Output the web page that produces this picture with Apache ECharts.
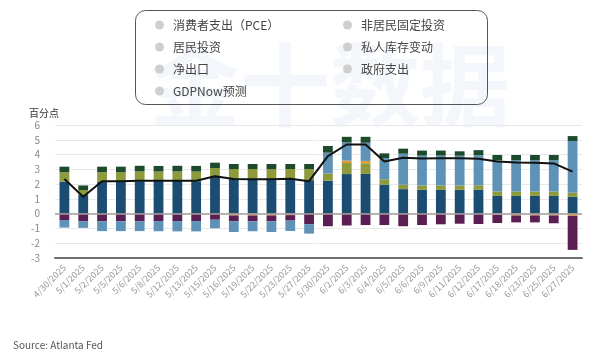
<!DOCTYPE html>
<html>
<head>
<meta charset="utf-8">
<script src="https://cdn.jsdelivr.net/npm/echarts@6/dist/echarts.min.js"></script>
<style>
html,body{margin:0;padding:0;background:#fff;}
#chart{width:600px;height:360px;}
</style>
</head>
<body>
<div id="chart"></div>
<script>
const categories = ['4/30/2025','5/1/2025','5/2/2025','5/5/2025','5/6/2025','5/8/2025','5/12/2025','5/13/2025','5/15/2025','5/16/2025','5/19/2025','5/22/2025','5/23/2025','5/27/2025','5/30/2025','6/2/2025','6/3/2025','6/4/2025','6/5/2025','6/6/2025','6/9/2025','6/11/2025','6/12/2025','6/17/2025','6/18/2025','6/23/2025','6/25/2025','6/27/2025'];
const pce         = [2.17,1.26,2.14,2.15,2.19,2.22,2.21,2.20,2.53,2.39,2.39,2.39,2.39,2.27,2.23,2.68,2.69,1.97,1.66,1.61,1.61,1.61,1.63,1.20,1.20,1.20,1.20,1.14];
const nonres      = [0.63,0.34,0.66,0.65,0.67,0.63,0.65,0.65,0.56,0.63,0.63,0.63,0.63,0.75,0.48,0.75,0.72,0.36,0.30,0.30,0.30,0.30,0.29,0.30,0.30,0.30,0.30,0.28];
const resid       = [0,0,0,0,0,0,0,0,0,-0.12,-0.12,-0.12,-0.10,0,0,0.16,0.16,0,0,0,0,0,0,-0.08,-0.12,-0.12,-0.12,-0.15];
const inventories = [-0.43,-0.51,-0.51,-0.51,-0.51,-0.50,-0.50,-0.50,-0.41,-0.40,-0.40,-0.40,-0.37,-0.71,-0.85,-0.80,-0.77,-0.77,-0.85,-0.77,-0.72,-0.68,-0.70,-0.55,-0.47,-0.47,-0.53,-2.30];
const netExports  = [-0.51,-0.45,-0.67,-0.67,-0.67,-0.69,-0.70,-0.70,-0.58,-0.72,-0.67,-0.72,-0.70,-0.64,1.42,1.23,1.23,1.43,2.10,2.02,2.02,2.01,2.04,2.12,2.12,2.12,2.12,3.50];
const government  = [0.38,0.31,0.38,0.38,0.38,0.38,0.38,0.38,0.36,0.34,0.34,0.34,0.34,0.34,0.45,0.38,0.40,0.32,0.34,0.34,0.34,0.30,0.34,0.35,0.35,0.35,0.35,0.33];
const gdpnow      = [2.35,1.15,2.20,2.20,2.22,2.23,2.23,2.23,2.53,2.34,2.33,2.33,2.36,2.20,3.90,4.68,4.68,3.53,3.79,3.73,3.75,3.75,3.72,3.53,3.47,3.45,3.40,2.85];

const names = ['消费者支出（PCE）','非居民固定投资','居民投资','私人库存变动','净出口','政府支出','GDPNow预测'];
const colors = ['#1b4d73','#8d9b3c','#e59a3a','#5a1e52','#5e93b7','#1d4a2c'];
const barData = [pce, nonres, resid, inventories, netExports, government];

const chart = echarts.init(document.getElementById('chart'));
const FONT = '"Noto Sans CJK SC","Noto Sans",sans-serif';

const series = barData.map((d, i) => ({
  name: names[i],
  type: 'bar',
  stack: 'total',
  data: d,
  barWidth: '52%',
  itemStyle: { color: colors[i] },
  emphasis: { disabled: true }
}));
series.push({
  name: names[6],
  type: 'line',
  data: gdpnow,
  showSymbol: false,
  symbol: 'none',
  z: 10,
  lineStyle: { color: '#111', width: 2 },
  itemStyle: { color: '#111' },
  markLine: {
    silent: true,
    symbol: 'none',
    label: { show: false },
    lineStyle: { color: '#a59d9d', width: 1.5, type: 'solid' },
    data: [{ yAxis: 0 }],
    z: 5
  }
});

const legendCommon = {
  orient: 'vertical',
  icon: 'circle',
  itemWidth: 17,
  itemHeight: 9,
  itemGap: 8,
  selectedMode: false,
  itemStyle: { color: '#cfcfcf' },
  lineStyle: { opacity: 0 },
  textStyle: { color: '#444', fontSize: 12, fontFamily: FONT, lineHeight: 14 }
};

chart.setOption({
  animation: false,
  textStyle: { fontFamily: FONT },
  graphic: [
    {
      type: 'text', left: 150, top: 40, z: -10, silent: true,
      style: { text: '金十数据', fontSize: 90, fontWeight: 'bold', fontFamily: FONT, fill: 'rgba(215,226,242,0.3)' }
    },
    {
      type: 'rect', left: 133, top: 8, z: 100, silent: true,
      shape: { width: 352, height: 94, r: 10 },
      style: { fill: 'none', stroke: '#555', lineWidth: 1 }
    },
    {
      type: 'text', left: 13, top: 340,
      style: { text: 'Source: Atlanta Fed', fontSize: 10, fontFamily: FONT, fill: '#555' }
    }
  ],
  legend: [
    Object.assign({}, legendCommon, { left: 150, top: 13, data: [names[0], names[2], names[4], names[6]] }),
    Object.assign({}, legendCommon, { left: 338, top: 13, data: [names[1], names[3], names[5]] })
  ],
  grid: { left: 55, right: 18, top: 125, bottom: 102, containLabel: false },
  xAxis: {
    type: 'category',
    data: categories,
    axisTick: { show: false },
    axisLine: { onZero: false, lineStyle: { color: '#6e6e6e', width: 2 } },
    axisLabel: { rotate: 45, fontSize: 9, color: '#999', margin: 8, interval: 0 }
  },
  yAxis: {
    type: 'value',
    min: -3, max: 6, interval: 1,
    name: '百分点',
    nameLocation: 'end',
    nameGap: 7,
    nameTextStyle: { color: '#333', fontSize: 10, align: 'right', padding: [0, -4, 0, 0] },
    axisLine: { show: false },
    axisTick: { show: false },
    splitLine: { lineStyle: { color: '#e8e8e8' } },
    axisLabel: { color: '#888', fontSize: 10, margin: 15 }
  },
  series: series
});
</script>
</body>
</html>
